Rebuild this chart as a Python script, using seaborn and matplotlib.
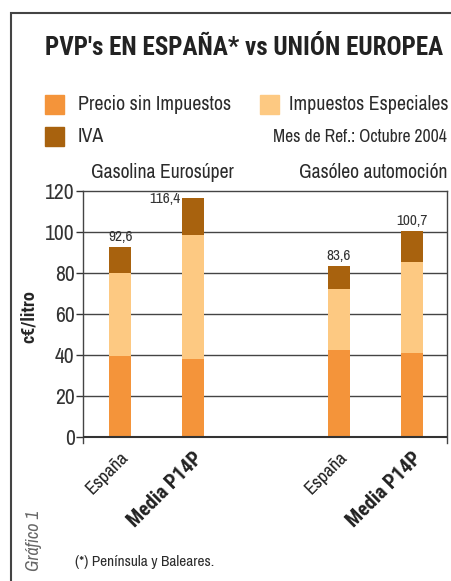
import pandas as pd
import matplotlib.pyplot as plt
import seaborn as sns
from matplotlib import font_manager as fm
from matplotlib.patches import Rectangle

# datos (c€/litro, octubre 2004)
categorias = ["España", "Media P14P", "España", "Media P14P"]
posiciones = [0, 1, 3, 4]
precio_sin_imp = [39.5, 38.0, 42.3, 41.0]
imp_especiales = [40.3, 60.5, 29.8, 44.4]
iva = [12.8, 17.9, 11.5, 15.3]
grupos = ["Gasolina Eurosúper", "Gasóleo automoción"]

c_precio = "#F4943A"
c_esp = "#FDC982"
c_iva = "#A8620E"

# fuentes estrechas (regular y negrita) instaladas
caras = {(f.name, int(f.weight) if str(f.weight).isdigit() else 400, f.style)
         for f in fm.fontManager.ttflist}

def primera(nombres, peso_min, peso_max):
    for n in nombres:
        if any(c[0] == n and peso_min <= c[1] <= peso_max and c[2] == "normal" for c in caras):
            return n
    return "Liberation Sans"

fuente = primera(["Archivo Narrow", "Roboto Condensed", "Liberation Sans Narrow",
                  "Barlow Semi Condensed"], 400, 400)
fuente_b = primera(["Archivo Narrow", "Roboto Condensed", "Liberation Sans Narrow",
                    "Barlow Semi Condensed", "Asap Condensed"], 700, 700)
NEG = dict(family=[fuente_b, "DejaVu Sans"], fontweight="bold")

df = pd.DataFrame({"x": posiciones, "precio": precio_sin_imp,
                   "esp": imp_especiales, "iva": iva})
df["nivel2"] = df["precio"] + df["esp"]
df["total"] = df["nivel2"] + df["iva"]

sns.set_style("white")
plt.rcParams["font.family"] = [fuente, "DejaVu Sans"]
plt.rcParams["text.color"] = "#2b2b2b"

fig = plt.figure(figsize=(4.52, 5.81), dpi=100)
ax = fig.add_axes([83 / 452, 1 - 443 / 581, 364 / 452, 252 / 581])

# barras apiladas (superpuestas de mayor a menor)
for col, c in [("total", c_iva), ("nivel2", c_esp), ("precio", c_precio)]:
    sns.barplot(data=df, x="x", y=col, native_scale=True, width=0.3, color=c,
                saturation=1, linewidth=0, ax=ax, zorder=3)

ax.set_xlim(-0.51, 4.48)
ax.set_ylim(-3, 120)
ax.set_yticks(range(0, 121, 20))
ax.set_yticklabels([str(v) for v in range(0, 121, 20)], fontsize=15.5, color="#333333")
ax.tick_params(axis="y", direction="out", length=5, width=1, color="#333333", pad=1, left=True)
for y in range(20, 120, 20):
    ax.axhline(y, color="#444444", lw=1, zorder=1)
ax.axhline(0, color="#333333", lw=1.5, zorder=4)

for s in ["left", "right", "top"]:
    ax.spines[s].set_color("#444444")
    ax.spines[s].set_linewidth(1)
ax.spines["bottom"].set_visible(False)

ax.set_xticks(posiciones)
ax.set_xticklabels(categorias, rotation=45, ha="right", rotation_mode="anchor", fontsize=13.5)
for lbl in ax.get_xticklabels():
    if lbl.get_text() == "Media P14P":
        lbl.set_family(NEG["family"])
        lbl.set_fontweight("bold")
        lbl.set_fontsize(14.5)
    lbl.set_color("#222222")
ax.tick_params(axis="x", length=0, pad=4)
ax.set_xlabel("")
ax.set_ylabel("c€/litro", fontsize=13, labelpad=5, **NEG)

# etiquetas de totales
for i, (x, t) in enumerate(zip(df["x"], df["total"])):
    txt = f"{t:.1f}".replace(".", ",")
    if i == 1:
        ax.text(x - 0.17, t - 0.5, txt, ha="right", va="center", fontsize=11, color="#333333")
    else:
        ax.annotate(txt, (x, t), xytext=(0, 2), textcoords="offset points",
                    ha="center", va="bottom", fontsize=11, color="#333333")

# subtítulos de grupo
fig.text(91 / 452, 1 - 173 / 581, grupos[0], ha="left", va="center", fontsize=14.2)
fig.text(447 / 452, 1 - 173 / 581, grupos[1], ha="right", va="center", fontsize=14.2)

# título
fig.text(45 / 452, 1 - 48 / 581, "PVP's EN ESPAÑA* vs UNIÓN EUROPEA", ha="left", va="center",
         fontsize=18.1, color="#222222", **NEG)

# leyenda manual
for (x0, xt, y0, col, lab) in [(45, 78, 95, c_precio, "Precio sin Impuestos"),
                                (260, 289, 95, c_esp, "Impuestos Especiales"),
                                (45, 78, 127, c_iva, "IVA")]:
    fig.patches.append(Rectangle((x0 / 452, 1 - (y0 + 19) / 581), 19 / 452, 19 / 581,
                                 transform=fig.transFigure, color=col))
    fig.text(xt / 452, 1 - (y0 + 10) / 581, lab, ha="left", va="center", fontsize=14.3)
fig.text(447 / 452, 1 - 137 / 581, "Mes de Ref.: Octubre 2004", ha="right", va="center",
         fontsize=12.7)

# notas
fig.text(34 / 452, 1 - 541 / 581, "Gráfico 1", rotation=90, ha="center", va="center",
         fontsize=13, style="italic", color="#666666")
fig.text(75 / 452, 1 - 562 / 581, "(*) Península y Baleares.", ha="left", va="center",
         fontsize=11)

# marco
fig.patches.append(Rectangle((11 / 452, -0.1), 1.2, 1 - 13 / 581 + 0.1,
                             transform=fig.transFigure, fill=False,
                             edgecolor="#444444", lw=1.5))

fig.savefig("out.png", dpi=100)
